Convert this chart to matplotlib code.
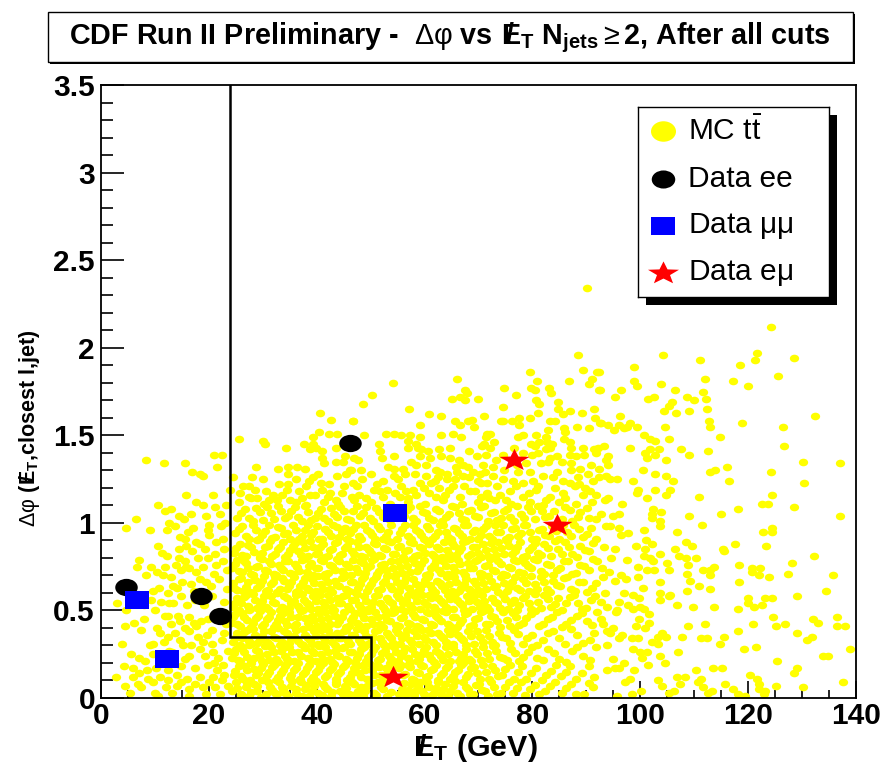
import matplotlib
matplotlib.use("Agg")
import matplotlib.pyplot as plt
import numpy as np
from matplotlib.path import Path
from matplotlib.transforms import Affine2D
from matplotlib.patches import Rectangle

plt.rcParams['font.family'] = ['Liberation Sans', 'DejaVu Sans']
plt.rcParams['mathtext.fontset'] = 'custom'
plt.rcParams['mathtext.rm'] = 'Liberation Sans'
plt.rcParams['mathtext.bf'] = 'Liberation Sans:bold'
plt.rcParams['mathtext.it'] = 'Liberation Sans:italic'
plt.rcParams['mathtext.default'] = 'rm'

# ---------------- data ----------------
# MC ttbar events (missing E_T [GeV], delta-phi)
mc_low_met = [
    (8.3,1.36),(11.6,1.34),(15.6,1.34),(21.0,1.39),(22.5,1.39),(21.6,1.32),(16.9,1.29),(18.3,1.28),(19.0,1.27),(15.7,1.16),(23.9,1.19),
    (11.8,1.07),(13.0,1.08),(6.5,1.02),(4.6,0.97),(14.5,1.04),(15.3,1.02),(12.7,1.00),(12.3,0.96),(16.7,1.05),(18.9,1.10),(21.1,1.09),
    (20.1,0.99),(19.8,0.96),(22.2,0.98),(23.0,1.00),(22.0,1.05),(23.2,1.10),(14.6,0.92),(15.5,0.91),(17.7,0.89),(18.3,0.88),(14.5,0.85),
    (15.8,0.87),(21.4,0.89),(22.6,0.91),(10.6,0.87),(11.3,0.83),(7.0,0.79),(6.6,0.75),(9.2,0.75),(11.8,0.75),(10.4,0.72),(14.5,0.80),
    (15.5,0.78),(15.7,0.75),(14.9,0.73),(16.4,0.74),(18.0,0.80),(19.8,0.80),(18.9,0.75),(17.7,0.72),(21.3,0.76),(22.6,0.78),(21.1,0.82),
    (21.9,0.68),(18.3,0.68),(19.5,0.66),(16.7,0.65),(13.3,0.64),(14.0,0.63),(9.6,0.61),(12.4,0.60),(14.8,0.58),(11.1,0.55),(12.7,0.54),
    (13.3,0.54),(3.0,0.54),(4.7,0.50),(10.1,0.50),(11.8,0.47),(12.5,0.47),(14.2,0.47),(14.6,0.44),(16.3,0.46),(17.2,0.43),(6.2,0.43),
    (4.4,0.41),(7.5,0.39),(13.8,0.37),(18.6,0.44),(17.7,0.41),(16.4,0.38),(19.7,0.36),(20.5,0.39),(18.9,0.32),(16.7,0.30),(15.2,0.30),
    (9.0,0.30),(9.6,0.31),(11.7,0.32),(5.6,0.25),(7.0,0.23),(4.3,0.18),(6.0,0.17),(7.0,0.14),(8.5,0.16),(6.0,0.12),(9.6,0.25),(13.5,0.21),
    (12.7,0.27),(16.4,0.24),(18.3,0.28),(20.8,0.26),(21.7,0.23),(19.8,0.19),(17.4,0.17),(14.9,0.18),(12.4,0.16),(10.9,0.12),(9.6,0.09),
    (6.9,0.08),(7.5,0.06),(4.5,0.07),(12.4,0.10),(14.1,0.13),(16.0,0.11),(18.3,0.12),(20.8,0.12),(22.9,0.13),(14.0,0.07),(16.4,0.05),
    (18.9,0.06),(21.1,0.06),(12.1,0.06),(10.6,0.01),(16.4,0.01),(19.5,0.02),(22.0,0.02),(10.0,0.03),
    (20.5,0.58),(22.8,0.55),(23.3,0.62),(20.9,0.71),(23.4,0.73),(22.9,0.85),(20.0,0.93),(17.1,0.97),(19.1,0.53),(21.6,0.49),(23.2,0.42),
    (22.4,0.33),(23.5,0.27),(21.5,0.16),(23.6,0.07),(8.0,0.45),(10.3,0.40),(13.0,0.42),(15.9,0.53),(17.5,0.56),(8.3,0.70),(12.9,0.69),(9.0,0.96),
    (10.8,0.63),(11.5,0.70),(13.9,0.76),(12.2,0.81),(16.9,0.84),(19.2,0.85),(20.4,0.64),(17.2,0.61),(15.1,0.66),(11.0,0.37),(12.4,0.35),
    (14.6,0.33),(15.5,0.40),(17.9,0.35),(19.9,0.45),(20.6,0.31),(22.9,0.37),(19.2,0.24),(21.0,0.20),(22.6,0.19),(15.6,0.22),(13.2,0.26),
    (11.2,0.22),(8.2,0.21),(10.2,0.17),(13.1,0.03),(14.9,0.09),(17.4,0.08),(20.1,0.09),(22.4,0.10),(8.7,0.11),(5.3,0.03),(7.9,0.53),
    (9.3,0.56),(16.1,0.95),(13.8,0.98),(19.4,1.04),(17.6,1.12),(20.7,1.16),(10.5,1.10),(3.9,0.31),(2.8,0.12),
]

mc_upper = [
    (40.6,1.63),(42.6,1.59),(46.7,1.58),(25.5,1.48),(30.0,1.47),(30.5,1.45),(34.3,1.43),(37.6,1.45),(39.3,1.49),(40.5,1.52),(42.3,1.51),
    (43.7,1.51),(39.3,1.45),(39.9,1.43),(38.8,1.42),(41.0,1.41),(43.5,1.43),(45.2,1.38),(44.9,1.35),(43.6,1.35),(40.9,1.37),(41.3,1.34),
    (24.4,1.26),(28.7,1.32),(28.0,1.26),(32.9,1.31),(34.6,1.32),(36.4,1.32),(37.9,1.31),(34.7,1.28),(40.2,1.28),(39.4,1.26),(38.5,1.24),
    (38.0,1.21),(43.8,1.27),(45.5,1.28),(46.3,1.30),(45.0,1.21),(40.8,1.23),(34.7,1.22),(33.0,1.22),(26.4,1.21),(27.4,1.21),(30.6,1.18),
    (31.9,1.16),(27.4,1.15),(29.0,1.14),(34.5,1.19),(38.8,1.16),(39.6,1.16),(42.5,1.17),(42.0,1.15),(35.0,1.13),(46.6,1.15),
    (88.4,1.96),(89.3,1.87),(92.0,1.86),(91.0,1.82),(90.4,1.79),(92.4,1.76),(79.6,1.86),(80.9,1.81),(86.7,1.81),(66.0,1.82),(54.1,1.80),
    (50.2,1.73),(48.6,1.68),(57.1,1.65),(60.8,1.62),(63.1,1.61),(46.8,1.58),(74.7,1.77),(76.9,1.73),(79.8,1.77),(80.4,1.76),(83.1,1.77),
    (83.5,1.74),(65.1,1.71),(66.6,1.72),(67.5,1.76),(67.8,1.74),(67.5,1.70),(69.9,1.71),(80.7,1.70),(81.2,1.68),(84.8,1.69),(74.6,1.66),
    (84.7,1.65),(81.1,1.63),(86.9,1.64),(89.1,1.63),(91.4,1.65),(85.6,1.62),(91.6,1.60),(71.0,1.61),(65.6,1.58),(68.0,1.58),(68.8,1.59),
    (66.5,1.56),(69.1,1.55),(59.1,1.56),(74.1,1.58),(74.6,1.58),(76.2,1.58),(77.6,1.60),(79.5,1.60),(83.2,1.58),(84.1,1.58),(77.5,1.56),
    (82.9,1.53),(85.8,1.54),(86.0,1.52),(88.2,1.55),(90.5,1.54),(92.7,1.57),(52.9,1.51),(54.4,1.51),(55.7,1.50),(51.5,1.45),(57.3,1.50),
    (59.1,1.49),(56.9,1.47),(58.5,1.45),(63.1,1.50),(65.3,1.51),(66.7,1.49),(71.6,1.51),(72.2,1.51),(71.4,1.49),(77.3,1.49),(78.2,1.50),
    (80.6,1.50),(82.5,1.49),(83.6,1.45),(85.9,1.48),(87.0,1.46),(87.1,1.43),(91.4,1.42),(89.3,1.43),(92.1,1.43),(48.7,1.50),(47.0,1.37),
    (47.6,1.36),(51.8,1.41),(52.1,1.37),(54.3,1.38),(57.0,1.43),(58.8,1.43),(59.4,1.42),(60.7,1.41),(62.7,1.42),(64.7,1.43),(59.1,1.38),
    (61.0,1.37),(63.0,1.38),(64.8,1.37),(68.2,1.41),(69.8,1.38),(71.4,1.39),(71.0,1.45),(72.9,1.46),(72.1,1.43),(70.7,1.44),(79.8,1.45),
    (80.4,1.44),(81.2,1.46),(82.7,1.46),(83.2,1.43),(81.1,1.40),(79.9,1.39),(82.5,1.42),(84.5,1.38),(83.3,1.37),(86.9,1.39),(88.1,1.38),
    (89.6,1.39),(91.8,1.40),(76.6,1.43),(74.5,1.39),(78.2,1.40),(77.1,1.33),(78.8,1.34),(81.5,1.34),(82.8,1.35),(85.4,1.35),(87.1,1.34),
    (90.9,1.33),(92.3,1.31),(88.8,1.31),(90.3,1.28),(92.3,1.26),(88.4,1.26),(87.2,1.30),(48.3,1.30),(46.1,1.30),(53.2,1.32),(54.4,1.31),
    (56.4,1.28),(58.4,1.33),(60.2,1.33),(62.2,1.30),(62.8,1.29),(64.2,1.28),(65.9,1.32),(67.2,1.33),(68.1,1.32),(68.9,1.29),(70.2,1.28),
    (71.2,1.29),(72.7,1.32),(72.7,1.27),(71.6,1.23),(70.4,1.23),(68.2,1.26),(67.1,1.27),(65.7,1.25),(64.2,1.25),(62.5,1.26),(61.2,1.23),
    (59.2,1.23),(57.9,1.19),(55.7,1.21),(54.4,1.27),(52.3,1.24),(48.4,1.25),(47.8,1.16),(50.6,1.19),(51.7,1.18),(54.5,1.17),(56.5,1.18),
    (59.9,1.20),(62.6,1.20),(64.6,1.19),(67.3,1.21),(69.4,1.18),(71.6,1.17),(73.4,1.21),(73.9,1.16),(75.9,1.18),(78.2,1.23),(80.1,1.24),
    (81.9,1.27),(84.6,1.29),(83.8,1.26),(85.6,1.24),(86.9,1.23),(87.9,1.21),(89.8,1.20),(91.8,1.16),(89.3,1.16),(85.6,1.17),(83.2,1.15),
    (80.7,1.19),(78.2,1.15),(70.5,1.15),(66.5,1.15),(62.2,1.15),(58.5,1.16),(55.4,1.15),(52.3,1.15),(90.1,2.34),
    (25.8,1.17),(28.5,1.19),(31.2,1.13),(33.6,1.16),(36.8,1.18),(37.2,1.14),(41.0,1.19),(43.5,1.13),(44.7,1.17),(47.4,1.21),(49.1,1.14),
    (51.2,1.22),(53.0,1.19),(55.0,1.25),(56.9,1.14),(58.2,1.28),(60.8,1.17),(61.9,1.24),(63.7,1.16),(65.2,1.21),(66.0,1.29),(68.4,1.18),
    (69.9,1.24),(72.0,1.14),(74.5,1.25),(75.1,1.13),(76.9,1.21),(77.4,1.29),(79.3,1.17),(81.0,1.21),(82.6,1.13),(84.2,1.20),(86.1,1.14),
    (88.6,1.22),(90.7,1.18),(91.3,1.24),(57.5,1.35),(60.3,1.27),(66.3,1.36),(70.9,1.33),(74.8,1.30),(76.4,1.24),(79.6,1.29),(73.2,1.36),
    (56.0,1.31),(50.0,1.28),(46.8,1.23),(30.0,1.25),(36.2,1.25),(42.2,1.22),
]

mc_high_met = [
    (124.3,2.12),(104.2,1.96),(111.1,1.93),(121.6,1.97),(121.3,1.93),(128.5,1.94),(118.5,1.90),(98.8,1.89),(92.4,1.86),(125.5,1.84),
    (112.0,1.82),(117.2,1.81),(119.9,1.78),(98.8,1.81),(99.3,1.78),(103.8,1.79),(106.5,1.76),(96.5,1.76),(92.5,1.76),(111.6,1.75),
    (95.3,1.72),(102.5,1.72),(101.5,1.71),(108.7,1.72),(110.0,1.70),(112.2,1.71),(105.8,1.69),(105.4,1.67),(112.3,1.65),(104.4,1.64),
    (109.0,1.64),(106.7,1.63),(132.4,1.61),(96.2,1.61),(118.9,1.57),(112.8,1.58),(112.9,1.55),(92.5,1.57),(94.0,1.56),(96.0,1.56),
    (98.0,1.57),(97.5,1.55),(96.9,1.54),(95.2,1.53),(99.3,1.55),(104.5,1.55),(126.4,1.55),(100.7,1.50),(114.8,1.49),(105.3,1.48),
    (101.8,1.48),(102.7,1.47),(93.2,1.44),(98.0,1.43),(101.8,1.42),(103.4,1.42),(107.5,1.42),(126.7,1.44),(100.9,1.40),(102.7,1.39),
    (94.0,1.38),(93.7,1.36),(101.2,1.37),(109.1,1.39),(112.5,1.41),(104.8,1.36),(94.1,1.33),(130.2,1.35),(137.1,1.34),(116.0,1.32),
    (113.8,1.30),(113.0,1.29),(124.2,1.29),(100.5,1.30),(102.7,1.28),(104.8,1.27),(93.6,1.27),(94.3,1.25),(95.7,1.25),(106.1,1.24),
    (98.7,1.24),(116.4,1.24),(130.4,1.23),(99.6,1.19),(102.8,1.19),(105.6,1.19),(99.3,1.17),(104.8,1.16),(101.3,1.14),(110.8,1.15),
    (124.5,1.16),
    (93.4,1.13),(94.0,1.14),(96.7,1.11),(122.6,1.11),(123.7,1.11),(128.5,1.09),(137.1,1.04),(118.2,1.08),(115.0,1.05),(102.3,1.08),
    (103.9,1.06),(102.1,1.05),(102.2,1.03),(109.1,1.04),(103.7,1.01),(103.7,0.98),(111.4,0.99),(94.9,1.04),(96.1,1.05),(92.7,1.05),
    (94.3,0.98),(93.6,0.98),(96.1,0.97),(100.7,0.96),(106.9,0.95),(122.7,0.95),(124.4,0.97),(124.5,0.95),(96.4,0.93),(97.8,0.94),
    (93.2,0.86),(99.2,0.87),(102.1,0.88),(101.1,0.90),(108.4,0.89),(109.6,0.87),(117.5,0.88),(123.4,0.87),(115.3,0.85),(115.6,0.84),
    (106.4,0.85),(95.3,0.85),(100.8,0.85),(103.7,0.82),(107.2,0.81),(108.5,0.80),(110.3,0.80),(94.6,0.80),(97.5,0.79),(100.6,0.81),
    (101.8,0.80),(102.3,0.78),(99.5,0.75),(104.9,0.77),(108.8,0.76),(132.2,0.81),(128.2,0.77),(118.3,0.76),(113.7,0.75),(113.0,0.73),
    (111.7,0.73),(120.8,0.74),(122.2,0.74),(120.8,0.72),(112.9,0.70),(135.8,0.70),(127.3,0.71),(122.0,0.70),(123.8,0.69),(92.9,0.74),
    (94.2,0.72),(96.5,0.70),(97.3,0.68),(99.6,0.69),(101.2,0.73),(102.5,0.73),(105.3,0.73),(108.6,0.71),(93.0,0.69),(95.4,0.67),
    (103.6,0.66),(109.3,0.67),(118.3,0.66),(110.9,0.64),(100.5,0.63),(112.9,0.62),(108.6,0.61),(134.5,0.61),(93.5,0.60),(97.0,0.60),
    (98.6,0.59),(99.7,0.57),(103.7,0.60),(105.5,0.59),(105.3,0.58),(103.6,0.56),(106.9,0.53),(92.7,0.55),(96.1,0.55),(97.8,0.53),
    (98.6,0.51),(99.9,0.52),(100.6,0.51),(93.8,0.52),(95.7,0.50),(95.5,0.49),(101.7,0.48),(109.7,0.52),(113.7,0.52),(118.2,0.51),
    (120.0,0.57),(119.9,0.54),(121.1,0.52),(122.5,0.53),(123.1,0.57),(124.4,0.57),(129.0,0.58),(92.7,0.45),(93.0,0.42),(95.0,0.40),
    (99.8,0.45),(101.6,0.43),(100.9,0.40),(99.2,0.41),(108.8,0.41),(112.0,0.42),(120.9,0.42),(124.6,0.46),(125.1,0.41),(126.9,0.42),
    (132.1,0.45),(132.9,0.43),(136.4,0.41),(138.0,0.41),(136.5,0.46),(93.9,0.38),(94.3,0.37),(96.6,0.36),(96.0,0.34),(98.4,0.34),
    (99.6,0.34),(102.2,0.32),(103.3,0.31),(103.2,0.35),(104.1,0.37),(104.8,0.35),(107.8,0.35),(111.2,0.34),(112.3,0.34),(115.6,0.35),
    (114.8,0.31),(118.1,0.38),(129.1,0.37),(131.8,0.35),(131.0,0.33),(93.8,0.30),(98.7,0.28),(99.9,0.26),(101.2,0.26),(100.3,0.23),
    (103.6,0.24),(107.0,0.26),(119.2,0.28),(121.4,0.29),(94.9,0.22),(96.9,0.20),(104.6,0.20),(125.4,0.21),(138.9,0.28),(133.9,0.24),
    (134.8,0.24),(93.9,0.16),(95.4,0.17),(96.0,0.17),(98.8,0.16),(101.4,0.19),(110.4,0.16),(113.5,0.17),(115.2,0.17),(129.1,0.17),
    (128.5,0.14),(120.4,0.13),(121.7,0.11),(122.1,0.08),(98.1,0.11),(97.2,0.09),(103.3,0.10),(104.1,0.07),(106.9,0.12),(108.3,0.12),
    (107.4,0.08),(110.7,0.09),(111.2,0.11),(115.7,0.08),(125.1,0.07),(130.2,0.06),(137.5,0.09),(111.7,0.06),(113.3,0.04),(112.5,0.03),
    (117.2,0.05),(118.2,0.02),(119.4,0.01),(122.1,0.05),(123.1,0.04),(122.9,0.02),(100.1,0.04),(98.5,0.02),(95.7,0.01),(105.4,0.03),
    (106.3,0.04),
]

mc_core = [
    (24.3,.04),(25.1,.09),(25.9,.02),(26.8,.06),(27.4,.01),(28.3,.08),(29.0,.04),(29.9,.10),(30.6,.02),(31.4,.06),(32.3,.03),(33.0,.09),
    (33.8,.05),(34.7,.01),(35.3,.07),(36.2,.03),(37.0,.09),(37.9,.05),(38.6,.01),(39.5,.07),(40.2,.03),(41.1,.08),(41.9,.05),(42.7,.01),
    (43.5,.09),(44.4,.04),(45.2,.07),(46.0,.02),(46.9,.08),(47.7,.04),(48.5,.01),(49.3,.07),(50.6,.03),(51.4,.09),(52.3,.05),(53.1,.01),
    (55.8,.05),(56.6,.02),(57.4,.08),(58.3,.04),(59.1,.09),(59.9,.02),(60.8,.06),(61.7,.03),(62.5,.09),(63.4,.05),(64.3,.01),(65.2,.07),
    (66.1,.03),(67.1,.09),(68.0,.05),(69.0,.02),(70.1,.08),(71.2,.04),(72.4,.09),(73.5,.02),(74.9,.06),(76.4,.03),(77.8,.09),(79.6,.05),
    (81.3,.02),(83.2,.07),(85.4,.03),(87.1,.08),(89.6,.02),(91.3,.06),
    (24.6,.13),(25.5,.18),(26.3,.11),(27.1,.16),(27.9,.20),(28.7,.13),(29.6,.17),(30.4,.11),(31.2,.15),(32.0,.19),(32.8,.12),(33.7,.16),
    (34.5,.20),(35.3,.13),(36.1,.17),(36.9,.11),(37.8,.15),(38.6,.19),(39.4,.12),(40.3,.16),(41.1,.20),(41.9,.13),(42.8,.17),(43.6,.11),
    (44.4,.15),(45.3,.19),(46.1,.12),(46.9,.17),(47.8,.14),(48.6,.19),(49.4,.11),(50.3,.16),(51.1,.19),(52.0,.13),(52.8,.17),(53.6,.20),
    (55.2,.17),(56.0,.13),(56.9,.19),(57.7,.11),(58.6,.15),(59.4,.19),(60.3,.12),(61.2,.16),(62.1,.19),(63.0,.13),(63.9,.17),(64.8,.11),
    (65.7,.15),(66.7,.19),(67.6,.12),(68.6,.17),(69.7,.14),(70.8,.19),(71.9,.11),(73.1,.16),(74.4,.13),(75.8,.19),(77.3,.15),(78.9,.11),
    (80.7,.17),(82.6,.13),(84.3,.19),(86.2,.15),(88.1,.11),(90.5,.18),
    (24.2,.23),(25.0,.28),(25.8,.21),(26.6,.26),(27.5,.30),(28.3,.23),(29.1,.27),(29.9,.21),(30.8,.25),(31.6,.29),(32.4,.22),(33.3,.27),
    (34.1,.24),(34.9,.29),(35.8,.21),(36.6,.26),(37.4,.30),(38.3,.23),(39.1,.27),(39.9,.21),(40.8,.25),(41.6,.29),(42.4,.22),(43.3,.27),
    (44.1,.24),(45.0,.29),(45.8,.21),(46.6,.26),(47.5,.23),(48.3,.28),(49.1,.21),(50.0,.25),(50.9,.29),(51.7,.22),(52.6,.27),(53.4,.24),
    (54.3,.29),(55.1,.21),(56.0,.26),(56.9,.23),(57.7,.28),(58.6,.21),(59.5,.25),(60.3,.29),(61.2,.22),(62.1,.27),(63.0,.24),(63.9,.29),
    (64.8,.21),(65.8,.26),(66.7,.23),(67.7,.28),(68.7,.21),(69.8,.25),(70.9,.29),(72.0,.22),(73.3,.27),(74.6,.23),(76.0,.28),(77.5,.21),
    (79.1,.26),(80.9,.23),(82.9,.28),(85.0,.22),(87.3,.27),(89.4,.24),(91.8,.29),
    (24.5,.32),(25.3,.37),(26.1,.34),(27.0,.39),(27.8,.31),(28.6,.36),(29.5,.33),(30.3,.38),(31.1,.31),(32.0,.35),(32.8,.40),(33.6,.32),
    (34.5,.37),(35.3,.34),(36.2,.39),(37.0,.31),(37.8,.36),(38.7,.33),(39.5,.38),(40.3,.31),(41.2,.35),(42.0,.39),(42.9,.32),(43.7,.37),
    (44.5,.34),(45.4,.39),(46.2,.31),(47.0,.36),(47.9,.33),(48.7,.38),(49.6,.31),(50.4,.35),(51.3,.39),(52.1,.32),(53.0,.37),(53.8,.34),
    (54.7,.39),(55.5,.31),(56.4,.36),(57.3,.33),(58.1,.38),(59.0,.31),(59.9,.35),(60.7,.39),(61.6,.32),(62.5,.37),(63.4,.34),(64.3,.39),
    (65.2,.31),(66.2,.36),(67.1,.33),(68.1,.38),(69.1,.31),(70.2,.35),(71.3,.39),(72.5,.32),(73.8,.37),(75.1,.34),(76.6,.39),(78.2,.31),
    (80.0,.36),(81.9,.33),(83.8,.38),(86.0,.31),(88.3,.36),(90.6,.33),
    (24.1,.43),(24.9,.48),(25.7,.41),(26.6,.46),(27.4,.50),(28.2,.43),(29.1,.47),(29.9,.41),(30.7,.45),(31.6,.49),(32.4,.42),(33.2,.47),
    (34.1,.44),(34.9,.49),(35.8,.41),(36.6,.46),(37.4,.50),(38.3,.43),(39.1,.47),(40.0,.41),(40.8,.45),(41.6,.49),(42.5,.42),(43.3,.47),
    (44.2,.44),(45.0,.49),(45.9,.41),(46.7,.46),(47.5,.43),(48.4,.48),(49.2,.41),(50.1,.45),(50.9,.49),(51.8,.42),(52.6,.47),(53.5,.44),
    (54.3,.49),(55.2,.41),(56.0,.46),(56.9,.43),(57.8,.48),(58.6,.41),(59.5,.45),(60.4,.49),(61.2,.42),(62.1,.47),(63.0,.44),(63.9,.49),
    (64.8,.41),(65.7,.46),(66.6,.43),(67.5,.48),(68.5,.41),(69.4,.45),(70.4,.49),(71.4,.42),(72.4,.47),(73.5,.44),(74.6,.49),(75.8,.41),
    (77.0,.46),(78.3,.43),(79.7,.48),(81.2,.41),(82.8,.45),(84.5,.49),(86.3,.42),(88.2,.47),(90.1,.44),(91.9,.49),
    (24.4,.52),(25.2,.57),(26.0,.54),(26.9,.59),(27.7,.51),(28.5,.56),(29.4,.53),(30.2,.58),(31.0,.51),(31.9,.55),(32.7,.60),(33.5,.52),
    (34.4,.57),(35.2,.54),(36.1,.59),(36.9,.51),(37.7,.56),(38.6,.53),(39.4,.58),(40.3,.51),(41.1,.55),(42.0,.59),(42.8,.52),(43.7,.57),
    (44.5,.54),(45.4,.59),(46.2,.51),(47.1,.56),(47.9,.53),(48.8,.58),(49.6,.51),(50.5,.55),(51.3,.59),(52.2,.52),(53.0,.57),(53.9,.54),
    (54.8,.59),(55.6,.51),(56.5,.56),(57.3,.53),(58.2,.58),(59.1,.51),(59.9,.55),(60.8,.59),(61.7,.52),(62.5,.57),(63.4,.54),(64.3,.59),
    (65.2,.51),(66.1,.56),(67.0,.53),(67.9,.58),(68.8,.51),(69.7,.55),(70.6,.59),(71.6,.52),(72.5,.57),(73.5,.54),(74.5,.59),(75.5,.51),
    (76.5,.56),(77.6,.53),(78.7,.58),(79.8,.51),(81.0,.55),(82.2,.59),(83.5,.52),(84.8,.57),(86.2,.54),(87.7,.59),(89.2,.51),(90.8,.56),
    (24.7,.63),(25.6,.68),(26.4,.61),(27.3,.66),(28.1,.70),(28.9,.63),(29.8,.67),(30.6,.61),(31.5,.65),(32.3,.69),(33.1,.62),(34.0,.67),
    (34.8,.64),(35.7,.69),(36.5,.61),(37.4,.66),(38.2,.63),(39.1,.68),(39.9,.61),(40.8,.65),(41.6,.69),(42.5,.62),(43.3,.67),(44.2,.64),
    (45.0,.69),(45.9,.61),(46.7,.66),(47.6,.63),(48.4,.68),(49.3,.61),(50.1,.65),(51.0,.69),(51.9,.62),(52.7,.67),(53.6,.64),(54.5,.69),
    (55.3,.61),(56.2,.66),(57.1,.63),(57.9,.68),(58.8,.61),(59.7,.65),(60.6,.69),(61.4,.62),(62.3,.67),(63.2,.64),(64.1,.69),(65.0,.61),
    (65.9,.66),(66.8,.63),(67.7,.68),(68.6,.61),(69.5,.65),(70.4,.69),(71.3,.62),(72.3,.67),(73.2,.64),(74.2,.69),(75.2,.61),(76.2,.66),
    (77.2,.63),(78.2,.68),(79.3,.61),(80.4,.65),(81.5,.69),(82.7,.62),(83.9,.67),(85.2,.64),(86.5,.69),(87.9,.61),(89.4,.66),(91.0,.63),
    (24.3,.74),(25.2,.79),(26.1,.72),(26.9,.77),(27.8,.71),(28.7,.75),(29.5,.80),(30.4,.73),(31.2,.78),(32.1,.71),(33.0,.76),(33.8,.73),
    (34.7,.78),(35.6,.71),(36.4,.75),(37.3,.79),(38.2,.72),(39.0,.77),(39.9,.74),(40.8,.79),(41.6,.71),(42.5,.76),(43.4,.73),(44.2,.78),
    (45.1,.71),(46.0,.75),(46.8,.79),(47.7,.72),(48.6,.77),(49.4,.74),(50.3,.79),(51.2,.71),(52.0,.76),(52.9,.73),(53.8,.78),(54.7,.71),
    (55.5,.75),(56.4,.79),(57.3,.72),(58.2,.77),(59.0,.74),(59.9,.79),(60.8,.71),(61.7,.76),(62.6,.73),(63.5,.78),(64.4,.71),(65.3,.75),
    (66.2,.79),(67.1,.72),(68.0,.77),(68.9,.74),(69.8,.79),(70.7,.71),(71.7,.76),(72.6,.73),(73.6,.78),(74.6,.71),(75.6,.75),(76.6,.79),
    (77.6,.72),(78.7,.77),(79.8,.74),(80.9,.79),(82.1,.71),(83.3,.76),(84.6,.73),(85.9,.78),(87.3,.71),(88.8,.76),(90.4,.73),(91.9,.78),
    (24.6,.83),(25.7,.88),(26.8,.81),(27.8,.86),(28.9,.90),(29.9,.83),(30.9,.87),(31.8,.81),(32.8,.85),(33.7,.89),(34.6,.82),(35.6,.87),
    (36.5,.84),(37.4,.89),(38.3,.81),(39.3,.86),(40.2,.83),(41.1,.88),(42.0,.81),(42.9,.85),(43.8,.89),(44.7,.82),(45.6,.87),(46.5,.84),
    (47.4,.89),(48.3,.81),(49.2,.86),(50.1,.83),(51.0,.88),(51.9,.81),(52.8,.85),(53.7,.89),(54.6,.82),(55.5,.87),(56.4,.84),(57.3,.89),
    (58.2,.81),(59.1,.86),(60.0,.83),(60.9,.88),(61.8,.81),(62.7,.85),(63.6,.89),(64.5,.82),(65.4,.87),(66.3,.84),(67.2,.89),(68.1,.81),
    (69.0,.86),(69.9,.83),(70.9,.88),(71.8,.81),(72.8,.85),(73.7,.89),(74.7,.82),(75.7,.87),(76.7,.84),(77.7,.89),(78.8,.81),(79.9,.86),
    (81.0,.83),(82.2,.88),(83.4,.81),(84.7,.85),(86.0,.89),(87.4,.82),(88.9,.87),(90.5,.84),
    (24.9,.94),(26.2,.98),(27.5,.91),(28.7,.96),(29.9,.93),(31.1,.99),(32.2,.92),(33.4,.97),(34.5,.94),(35.6,.99),(36.7,.91),(37.8,.96),
    (38.9,.93),(40.0,.98),(41.0,.91),(42.1,.95),(43.1,.99),(44.2,.92),(45.2,.97),(46.2,.94),(47.3,.99),(48.3,.91),(49.3,.96),(50.3,.93),
    (51.3,.98),(52.3,.91),(53.3,.95),(55.4,.94),(56.4,.99),(57.4,.91),(58.4,.96),(59.4,.93),(60.4,.98),(61.4,.91),(62.4,.95),(63.4,.99),
    (64.4,.92),(65.4,.97),(66.4,.94),(67.4,.99),(68.4,.91),(69.4,.96),(70.4,.93),(71.4,.98),(72.5,.91),(73.5,.95),(74.5,.99),(75.6,.92),
    (76.7,.97),(77.8,.94),(78.9,.99),(80.0,.91),(81.2,.96),(82.4,.93),(83.7,.98),(85.0,.91),(86.4,.95),(87.8,.99),(89.3,.92),(90.9,.97),
    (25.2,1.03),(26.7,1.08),(28.1,1.01),(29.5,1.06),(30.8,1.09),(32.1,1.02),(33.4,1.07),(34.7,1.04),(35.9,1.09),(37.2,1.01),(38.4,1.06),
    (39.6,1.03),(40.8,1.08),(42.0,1.01),(43.2,1.05),(44.4,1.09),(45.6,1.02),(46.8,1.07),(48.0,1.04),(49.2,1.09),(50.4,1.01),(51.6,1.06),
    (56.1,1.04),(57.3,1.09),(58.5,1.01),(59.7,1.06),(60.9,1.03),(62.1,1.08),(63.3,1.01),(64.5,1.05),(65.7,1.09),(66.9,1.02),(68.1,1.07),
    (69.3,1.04),(70.5,1.09),(71.7,1.01),(72.9,1.06),(74.1,1.03),(75.3,1.08),(76.5,1.01),(77.8,1.05),(79.1,1.09),(80.4,1.02),(81.7,1.07),
    (83.0,1.04),(86.0,1.09),(87.4,1.01),(88.9,1.06),(90.5,1.03),
    (25.6,1.12),(27.9,1.14),(30.2,1.11),(32.7,1.13),(36.1,1.12),(38.0,1.10),(41.3,1.12),(44.0,1.11),(47.0,1.13),(50.0,1.12),(53.5,1.11),
    (57.0,1.12),(60.0,1.11),(63.5,1.13),(67.0,1.11),(70.0,1.12),(73.0,1.13),(76.0,1.11),(79.5,1.12),(82.0,1.10),(85.0,1.12),(88.0,1.11),
    (91.0,1.12),
]

mc_core_fill = [
    (25.2,.055),(26.0,.015),(27.0,.085),(27.8,.035),(28.9,.07),(29.6,.005),(30.9,.09),(31.7,.045),(32.7,.02),(33.6,.065),(34.2,.03),
    (35.4,.095),(36.1,.05),(37.3,.01),(38.0,.075),(39.2,.04),(39.9,.095),(41.0,.015),(41.6,.06),(42.9,.035),(43.6,.08),(44.8,.02),
    (45.5,.055),(46.6,.09),(47.3,.025),(48.3,.065),(49.0,.04),(50.2,.085),(51.0,.015),(52.0,.06),(52.8,.095),(53.7,.035),(55.2,.02),
    (56.2,.085),(57.0,.045),(58.0,.015),(58.7,.07),(59.6,.04),(60.4,.09),(61.3,.015),(62.1,.055),(63.0,.02),(63.8,.08),(64.8,.04),
    (65.7,.095),(66.5,.01),(67.6,.06),(68.5,.025),(69.6,.075),(70.6,.045),(71.8,.01),(72.9,.065),(74.2,.03),(75.6,.09),(77.1,.055),
    (78.7,.015),(80.4,.075),(82.3,.04),(84.2,.09),(86.3,.055),(88.0,.02),(90.4,.085),
    (24.9,.155),(25.9,.125),(26.7,.185),(27.6,.105),(28.4,.165),(29.2,.14),(30.0,.195),(30.8,.13),(31.7,.175),(32.5,.105),(33.3,.145),
    (34.1,.185),(35.0,.115),(35.8,.16),(36.5,.2),(37.4,.135),(38.2,.17),(39.0,.105),(39.9,.15),(40.7,.185),(41.5,.12),(42.4,.16),
    (43.2,.195),(44.0,.135),(44.9,.175),(45.7,.105),(46.5,.145),(47.4,.185),(48.2,.12),(49.0,.16),(49.9,.195),(50.7,.13),(51.5,.175),
    (52.4,.11),(53.2,.15),(54.0,.19),(55.6,.19),(56.4,.135),(57.3,.175),(58.1,.105),(59.0,.145),(59.8,.185),(60.7,.125),(61.6,.165),
    (62.5,.105),(63.4,.145),(64.3,.185),(65.2,.125),(66.2,.16),(67.1,.2),(68.1,.135),(69.1,.175),(70.2,.11),(71.4,.15),(72.5,.185),
    (73.7,.125),(75.0,.165),(76.5,.11),(78.0,.185),(79.8,.14),(81.7,.105),(83.5,.155),(85.3,.125),(87.0,.185),(89.2,.14),(91.5,.12),
    (24.6,.255),(25.4,.215),(26.2,.285),(27.1,.235),(27.9,.205),(28.7,.275),(29.5,.245),(30.4,.295),(31.2,.215),(32.0,.26),(32.9,.205),
    (33.7,.285),(34.5,.225),(35.4,.265),(36.2,.205),(37.0,.24),(37.9,.285),(38.7,.215),(39.5,.255),(40.4,.295),(41.2,.225),(42.0,.265),
    (42.9,.205),(43.7,.245),(44.6,.285),(45.4,.225),(46.2,.265),(47.1,.205),(47.9,.25),(48.7,.29),(49.6,.235),(50.4,.275),(51.3,.215),
    (52.1,.255),(53.0,.295),(53.8,.22),(54.7,.26),(55.6,.24),(56.4,.285),(57.3,.205),(58.2,.25),(59.0,.225),(59.9,.275),(60.8,.245),
    (61.7,.205),(62.6,.255),(63.5,.215),(64.4,.25),(65.3,.29),(66.3,.21),(67.2,.25),(68.2,.225),(69.3,.27),(70.4,.215),(71.5,.255),
    (72.7,.295),(73.9,.235),(75.3,.215),(76.7,.255),(78.3,.235),(80.0,.29),(82.0,.215),(84.0,.255),(86.2,.205),(88.3,.29),(90.6,.215),
    (24.9,.345),(25.7,.305),(26.5,.375),(27.4,.325),(28.2,.395),(29.0,.315),(29.9,.355),(30.7,.32),(31.5,.385),(32.4,.345),(33.2,.305),
    (34.0,.38),(34.9,.315),(35.7,.355),(36.6,.325),(37.4,.395),(38.3,.345),(39.1,.31),(39.9,.355),(40.8,.39),(41.6,.325),(42.5,.36),
    (43.3,.305),(44.1,.345),(45.0,.385),(45.8,.325),(46.6,.36),(47.5,.395),(48.3,.315),(49.1,.355),(50.0,.32),(50.8,.38),(51.7,.345),
    (52.5,.305),(53.4,.355),(54.2,.315),(55.1,.37),(55.9,.34),(56.8,.39),(57.7,.315),(58.6,.355),(59.5,.39),(60.3,.33),(61.2,.37),
    (62.1,.305),(63.0,.355),(63.9,.32),(64.8,.365),(65.7,.395),(66.7,.34),(67.6,.305),(68.6,.355),(69.7,.385),(70.8,.32),(71.9,.355),
    (73.1,.305),(74.4,.35),(75.8,.315),(77.3,.365),(79.0,.34),(80.9,.305),(82.8,.37),(84.9,.345),(87.1,.395),(89.4,.315),(91.5,.37),
    (24.5,.465),(25.3,.425),(26.2,.485),(27.0,.445),(27.8,.405),(28.7,.455),(29.5,.495),(30.3,.425),(31.2,.465),(32.0,.405),(32.8,.445),
    (33.7,.485),(34.5,.415),(35.3,.465),(36.2,.425),(37.0,.495),(37.9,.455),(38.7,.405),(39.5,.445),(40.4,.485),(41.2,.415),(42.1,.455),
    (42.9,.495),(43.7,.425),(44.6,.465),(45.4,.405),(46.3,.445),(47.1,.485),(47.9,.415),(48.8,.455),(49.6,.495),(50.5,.425),(51.3,.465),
    (52.2,.405),(53.0,.445),(53.9,.485),(54.7,.415),(55.6,.455),(56.4,.495),(57.3,.425),(58.2,.465),(59.0,.405),(59.9,.445),(60.8,.485),
    (61.6,.415),(62.5,.455),(63.4,.495),(64.3,.425),(65.2,.465),(66.1,.405),(67.0,.445),(67.9,.485),(68.9,.415),(69.9,.455),(70.9,.495),
    (71.9,.425),(72.9,.465),(74.0,.405),(75.2,.445),(76.4,.485),(77.6,.415),(78.9,.455),(80.4,.495),(82.0,.425),(83.6,.465),(85.4,.405),
    (87.2,.445),(89.1,.485),(91.0,.415),
    (24.8,.545),(25.6,.505),(26.5,.575),(27.3,.525),(28.1,.595),(29.0,.515),(29.8,.555),(30.6,.52),(31.5,.585),(32.3,.545),(33.1,.505),
    (34.0,.58),(34.8,.515),(35.7,.555),(36.5,.525),(37.3,.595),(38.2,.545),(39.0,.51),(39.9,.555),(40.7,.59),(41.5,.525),(42.4,.56),
    (43.2,.505),(44.1,.545),(44.9,.585),(45.8,.525),(46.6,.56),(47.5,.595),(48.3,.515),(49.2,.555),(50.0,.52),(50.9,.58),(51.7,.545),
    (52.6,.505),(53.4,.555),(54.3,.515),(55.2,.57),(56.0,.54),(56.9,.59),(57.7,.515),(58.6,.555),(59.5,.59),(60.4,.53),(61.2,.57),
    (62.1,.505),(63.0,.555),(63.9,.52),(64.7,.565),(65.6,.595),(66.5,.54),(67.4,.505),(68.3,.555),(69.2,.585),(70.2,.52),(71.1,.555),
    (72.0,.505),(73.0,.55),(74.0,.515),(75.0,.565),(76.0,.54),(77.1,.505),(78.2,.57),(79.3,.545),(80.5,.595),(81.6,.515),(82.8,.565),
    (84.1,.535),(85.5,.505),(86.9,.575),(88.4,.545),(90.0,.515),(91.6,.585),
    (24.4,.655),(25.2,.615),(26.0,.685),(26.9,.635),(27.7,.605),(28.5,.675),(29.4,.645),(30.2,.695),(31.0,.615),(31.9,.66),(32.7,.605),
    (33.6,.685),(34.4,.625),(35.2,.665),(36.1,.605),(36.9,.64),(37.8,.685),(38.6,.615),(39.5,.655),(40.3,.695),(41.2,.625),(42.0,.665),
    (42.9,.605),(43.7,.645),(44.6,.685),(45.4,.625),(46.3,.665),(47.1,.605),(48.0,.65),(48.8,.69),(49.7,.635),(50.5,.675),(51.4,.615),
    (52.3,.655),(53.1,.695),(54.0,.62),(54.9,.66),(55.7,.64),(56.6,.685),(57.5,.605),(58.4,.65),(59.2,.625),(60.1,.675),(61.0,.645),
    (61.9,.605),(62.8,.655),(63.7,.615),(64.6,.65),(65.5,.69),(66.4,.61),(67.3,.65),(68.2,.625),(69.1,.67),(70.0,.615),(70.9,.655),
    (71.8,.695),(72.8,.635),(73.7,.605),(74.7,.655),(75.7,.635),(76.7,.69),(77.7,.615),(78.8,.655),(79.8,.695),(80.9,.625),(82.1,.665),
    (83.3,.605),(84.5,.645),(85.8,.685),(87.2,.625),(88.6,.665),(90.2,.605),(91.7,.655),
    (24.8,.765),(25.6,.725),(26.5,.785),(27.3,.745),(28.2,.705),(29.1,.755),(29.9,.795),(30.8,.725),(31.6,.765),(32.5,.705),(33.4,.745),
    (34.2,.785),(35.1,.715),(36.0,.765),(36.8,.725),(37.7,.795),(38.6,.755),(39.4,.705),(40.3,.745),(41.2,.785),(42.0,.715),(42.9,.755),
    (43.8,.795),(44.6,.725),(45.5,.765),(46.4,.705),(47.2,.745),(48.1,.785),(49.0,.715),(49.8,.755),(50.7,.795),(51.6,.725),(52.4,.765),
    (53.3,.705),(54.2,.745),(55.1,.785),(55.9,.715),(56.8,.755),(57.7,.795),(58.6,.725),(59.4,.765),(60.3,.705),(61.2,.745),(62.1,.785),
    (63.0,.715),(63.9,.755),(64.8,.795),(65.7,.725),(66.6,.765),(67.5,.705),(68.4,.745),(69.3,.785),(70.2,.715),(71.2,.755),(72.1,.795),
    (73.1,.725),(74.1,.765),(75.1,.705),(76.1,.745),(77.1,.785),(78.2,.715),(79.2,.755),(80.3,.795),(81.5,.725),(82.7,.765),(83.9,.705),
    (85.2,.745),(86.6,.785),(88.0,.715),(89.6,.755),(91.2,.795),
    (25.1,.855),(26.2,.815),(27.3,.875),(28.3,.835),(29.4,.805),(30.4,.86),(31.3,.895),(32.3,.825),(33.2,.865),(34.1,.805),(35.1,.845),
    (36.0,.885),(37.0,.815),(37.9,.855),(38.8,.895),(39.8,.825),(40.7,.865),(41.6,.805),(42.5,.845),(43.4,.885),(44.3,.815),(45.2,.855),
    (46.1,.895),(47.0,.825),(47.9,.865),(48.8,.805),(49.7,.845),(50.6,.885),(51.5,.815),(52.4,.855),(53.3,.895),(54.2,.825),(55.1,.865),
    (56.0,.805),(56.9,.845),(57.8,.885),(58.7,.815),(59.6,.855),(60.5,.895),(61.4,.825),(62.3,.865),(63.2,.805),(64.1,.845),(65.0,.885),
    (65.9,.815),(66.8,.855),(67.7,.895),(68.6,.825),(69.5,.865),(70.4,.805),(71.4,.845),(72.3,.885),(73.3,.815),(74.2,.855),(75.2,.895),
    (76.2,.825),(77.2,.865),(78.3,.805),(79.4,.845),(80.5,.885),(81.6,.815),(82.8,.855),(84.1,.895),(85.4,.825),(86.7,.865),(88.2,.805),
    (89.7,.845),(91.3,.885),
    (25.5,.965),(26.9,.925),(28.1,.985),(29.3,.905),(30.5,.955),(31.7,.915),(32.8,.975),(34.0,.935),(35.1,.905),(36.2,.96),(37.3,.925),
    (38.4,.985),(39.4,.945),(40.5,.905),(41.6,.965),(42.6,.925),(43.7,.975),(44.7,.945),(45.7,.905),(46.8,.965),(47.8,.925),(48.8,.985),
    (49.8,.945),(50.8,.905),(51.8,.965),(52.8,.925),(53.8,.985),(54.9,.905),(55.9,.965),(56.9,.925),(57.9,.985),(58.9,.945),(59.9,.905),
    (60.9,.965),(61.9,.925),(62.9,.985),(63.9,.945),(64.9,.905),(65.9,.965),(66.9,.925),(67.9,.985),(68.9,.945),(69.9,.905),(70.9,.965),
    (72.0,.925),(73.0,.985),(74.0,.945),(75.1,.905),(76.2,.965),(77.3,.925),(78.4,.985),(79.5,.945),(80.6,.905),(81.8,.965),(83.0,.925),
    (84.3,.955),(85.6,.985),(87.1,.925),(88.6,.965),(90.2,.935),(91.8,.905),
    (25.9,1.055),(27.4,1.025),(28.8,1.085),(30.1,1.015),(31.5,1.055),(32.8,1.095),(34.1,1.025),(35.3,1.065),(36.6,1.035),(37.8,1.095),
    (39.0,1.015),(40.2,1.055),(41.4,1.025),(42.6,1.085),(43.8,1.035),(45.0,1.065),(46.2,1.015),(47.4,1.095),(48.6,1.055),(49.8,1.025),
    (51.0,1.085),(52.3,1.035),(53.5,1.015),(56.7,1.075),(57.9,1.025),(59.1,1.095),(60.3,1.055),(61.5,1.015),(62.7,1.065),(63.9,1.035),
    (65.1,1.095),(66.3,1.055),(67.5,1.015),(68.7,1.075),(69.9,1.035),(71.1,1.095),(72.3,1.055),(73.5,1.015),(74.7,1.065),(75.9,1.035),
    (77.1,1.095),(78.4,1.025),(79.7,1.065),(81.0,1.095),(82.4,1.035),(84.0,1.065),(85.4,1.02),(87.0,1.075),(88.5,1.035),(90.1,1.085),
    (91.7,1.02),
]

# Data events
ee_met, ee_dphi = [4.6, 18.6, 22.1, 46.2], [0.635, 0.585, 0.47, 1.455]
mumu_met, mumu_dphi = [6.6, 12.2, 54.5], [0.56, 0.22, 1.055]
emu_met, emu_dphi = [54.1, 76.5, 84.5], [0.12, 1.36, 0.99]

# Selection cut boundaries
cut_met_min, cut_met_box, cut_dphi_min = 24.0, 50.0, 0.35

x_ticks = [0, 20, 40, 60, 80, 100, 120, 140]
y_ticks = [0, 0.5, 1, 1.5, 2, 2.5, 3, 3.5]
y_tick_labels = ['0', '0.5', '1', '1.5', '2', '2.5', '3', '3.5']

# ---------------- styling helpers ----------------
W, H = 885, 764


def stretched(path, sx):
    return Affine2D().scale(sx, 1.0).transform_path(path)


dot_marker = stretched(Path.unit_circle(), 1.22)
circle_marker = stretched(Path.unit_circle(), 1.3)
square_marker = stretched(Path.unit_rectangle().transformed(Affine2D().translate(-0.5, -0.5)), 1.35)
star_marker = stretched(Path.unit_regular_star(5, 0.42), 1.35)


def px(v):
    # pixel length -> points
    return v * 72.0 / 100.0


fig = plt.figure(figsize=(W / 100, H / 100), dpi=100)
ax = fig.add_axes([101 / W, 66 / H, 755 / W, 613 / H])
ax.set_xlim(0, 140)
ax.set_ylim(0, 3.5)

mc = np.array(mc_low_met + mc_upper + mc_high_met + mc_core + mc_core_fill)
ax.scatter(mc[:, 0], mc[:, 1], s=px(9.3) ** 2, marker=dot_marker, color='#ffff00',
           linewidths=0, zorder=2, clip_on=True)

# cut boundary
ax.plot([cut_met_min, cut_met_min, cut_met_box, cut_met_box],
        [3.5, cut_dphi_min, cut_dphi_min, 0], color='black', lw=1.8, zorder=3,
        solid_joinstyle='miter')

ax.scatter(ee_met, ee_dphi, s=px(22.5) ** 2, marker=circle_marker, color='black', linewidths=0, zorder=4)
ax.scatter(mumu_met, mumu_dphi, s=px(23.5) ** 2, marker=square_marker, color='#0000ff', linewidths=0, zorder=4)
ax.scatter(emu_met, emu_dphi, s=px(30) ** 2, marker=star_marker, color='#ff0000', linewidths=0, zorder=4)

# axes frame / ticks
for sp in ax.spines.values():
    sp.set_linewidth(1.3)
    sp.set_color('black')
ax.set_xticks(x_ticks)
ax.set_xticks(np.arange(0, 141, 5), minor=True)
ax.set_yticks(y_ticks)
ax.set_yticklabels(y_tick_labels)
ax.set_yticks(np.arange(0, 3.51, 0.1), minor=True)
ax.tick_params(axis='x', which='major', direction='in', length=px(17), width=1.2, pad=px(4))
ax.tick_params(axis='x', which='minor', direction='in', length=px(8.5), width=1.2)
ax.tick_params(axis='y', which='major', direction='in', length=px(23), width=1.2, pad=px(6))
ax.tick_params(axis='y', which='minor', direction='in', length=px(12), width=1.2)
for lbl in ax.get_xticklabels() + ax.get_yticklabels():
    lbl.set_fontweight('bold')
    lbl.set_fontsize(21.5)

MET = r'$\:\mathbf{/}\!\!\!\mathbf{E}_{\mathbf{T}}$'

# title box
fig.patches.append(Rectangle((50 / W, 1 - 64 / H), 805 / W, 50 / H, transform=fig.transFigure,
                             facecolor='black', edgecolor='none', zorder=0))
fig.patches.append(Rectangle((48 / W, 1 - 62 / H), 805 / W, 50 / H, transform=fig.transFigure,
                             facecolor='white', edgecolor='black', lw=1.0, zorder=1))
title = fig.text(450 / W, 1 - 38 / H,
                 r'CDF Run II Preliminary -  $\Delta\varphi$ vs ' + MET +
                 r' $\mathbf{N}_{\mathbf{jets}}\geq$2, After all cuts',
                 ha='center', va='center', fontsize=17, fontweight='bold', zorder=5)

xlab = fig.text(475 / W, 1 - 756 / H, MET + ' (GeV)', ha='center', va='baseline',
                fontsize=19, fontweight='bold')
ylab = fig.text(30 / W, 1 - 428 / H, r'$\Delta\varphi$ (' + MET + ',closest l,jet)',
                ha='center', va='center', rotation=90, fontsize=18, fontweight='bold')

# legend
lx0, ly0, lw_, lh_ = 638, 107, 191, 190
fig.patches.append(Rectangle(((lx0 + 8) / W, 1 - (ly0 + lh_ + 8) / H), lw_ / W, lh_ / H,
                             transform=fig.transFigure, facecolor='black', edgecolor='none', zorder=6))
lax = fig.add_axes([lx0 / W, 1 - (ly0 + lh_) / H, lw_ / W, lh_ / H], zorder=7)
lax.set_xlim(0, lw_)
lax.set_ylim(lh_, 0)
lax.set_xticks([])
lax.set_yticks([])
for sp in lax.spines.values():
    sp.set_linewidth(1.0)
legend_rows = [('MC t' + r'$\bar{\mathrm{t}}$', dot_marker, '#ffff00', 25),
               ('Data ee', circle_marker, 'black', 23.5),
               (r'Data $\mu\mu$', square_marker, '#0000ff', 24.5),
               (r'Data e$\mu$', star_marker, '#ff0000', 31)]
row_y = [24, 72, 119, 166]
for (txt, mk, col, size), yy in zip(legend_rows, row_y):
    lax.scatter([25], [yy], s=px(size) ** 2, marker=mk, color=col, linewidths=0)
    lax.text(50, yy, txt, ha='left', va='center', fontsize=21.5)

fig.canvas.draw()
r = fig.canvas.get_renderer()
# fit text widths to their boxes
for t, target in [(title, 764), (xlab, 126)]:
    w = t.get_window_extent(r).width
    t.set_fontsize(t.get_fontsize() * target / w)
h = ylab.get_window_extent(r).height
ylab.set_fontsize(ylab.get_fontsize() * 198 / h)

fig.savefig('out.png', dpi=100)
